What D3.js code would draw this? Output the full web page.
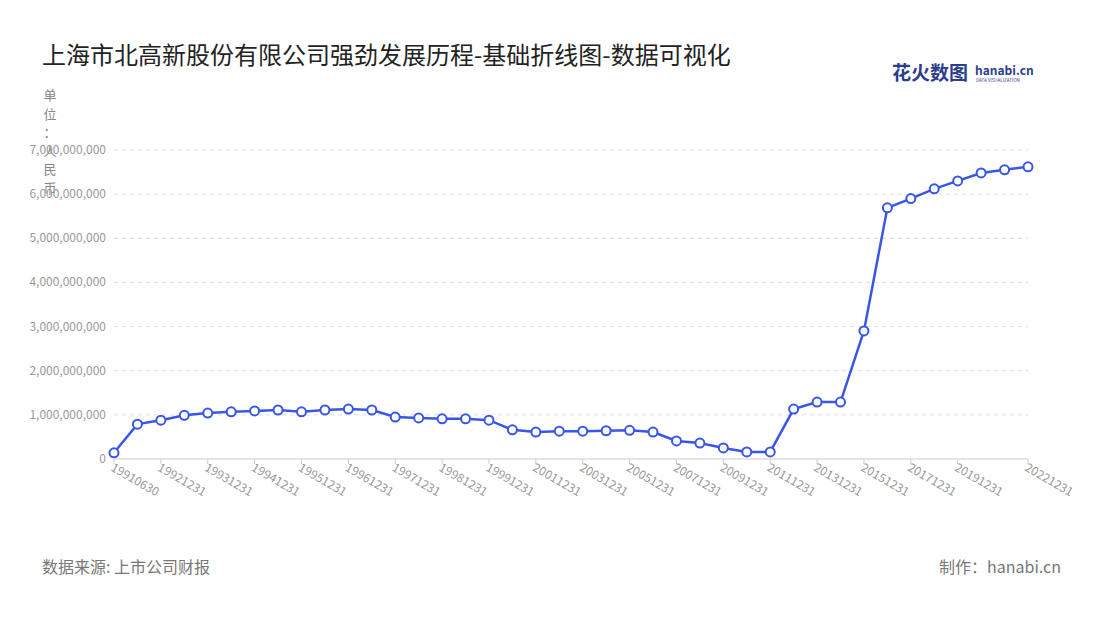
<!DOCTYPE html><html><head><meta charset="utf-8"><script src="https://cdn.jsdelivr.net/npm/d3@7"></script>
<style>body{margin:0;background:#fff;font-family:"Noto Sans CJK SC","Noto Sans",sans-serif}</style></head><body><svg id="c" width="1100" height="620"></svg>
<script>
const dates=["19910630","19911231","19921231","19930630","19931231","19940630","19941231","19950630","19951231","19960630","19961231","19970630","19971231","19980630","19981231","19990630","19991231","20001231","20011231","20021231","20031231","20041231","20051231","20061231","20071231","20081231","20091231","20101231","20111231","20121231","20131231","20141231","20151231","20161231","20171231","20181231","20191231","20201231","20211231","20221231"];
const values=[0.14,0.79,0.88,0.99,1.04,1.07,1.09,1.11,1.07,1.11,1.13,1.11,0.95,0.93,0.91,0.91,0.88,0.66,0.61,0.63,0.63,0.64,0.65,0.61,0.41,0.36,0.25,0.16,0.16,1.13,1.29,1.29,2.9,5.69,5.9,6.12,6.3,6.48,6.55,6.62].map(v=>v*1e9);
const yTicks=[0,1e9,2e9,3e9,4e9,5e9,6e9,7e9];
const labelIdx=[0,2,4,6,8,10,12,14,16,18,20,22,24,26,28,30,32,34,36,39];
const svg=d3.select("#c");
const x=d3.scalePoint().domain(dates).range([114,1028]);
const y=d3.scaleLinear().domain([0,7e9]).range([459,150]);
svg.append("text").attr("x",42).attr("y",64).attr("font-size",24).attr("fill","#222").text("上海市北高新股份有限公司强劲发展历程-基础折线图-数据可视化");
// logo
svg.append("text").attr("x",892).attr("y",80).attr("font-size",19).attr("font-weight","bold").attr("fill","#2d3e8c").text("花火数图");
svg.append("text").attr("x",975).attr("y",75).attr("font-size",12).attr("font-weight","bold").attr("fill","#2d3e8c").text("hanabi.cn");
svg.append("text").attr("x",976).attr("y",82).attr("font-size",4.5).attr("fill","#2d3e8c").text("DATA VISUALIZATION");
// unit
"单位：人民币".split("").forEach((ch,i)=>svg.append("text").attr("x",50).attr("y",100+i*18.5).attr("font-size",13).attr("fill","#888").attr("text-anchor","middle").text(ch));
const g=svg.append("g");
yTicks.forEach(t=>{ if(t>0) g.append("line").attr("x1",114).attr("x2",1028).attr("y1",y(t)).attr("y2",y(t)).attr("stroke","#ddd").attr("stroke-dasharray","4,4");
 g.append("text").attr("x",106).attr("y",y(t)+4).attr("text-anchor","end").attr("font-size",12).attr("fill","#999").text(d3.format(",")(t));});
g.append("line").attr("x1",114).attr("x2",1028).attr("y1",459).attr("y2",459).attr("stroke","#ccc");
labelIdx.forEach(i=>{const xx=x(dates[i]);
 g.append("line").attr("x1",xx).attr("x2",xx).attr("y1",459).attr("y2",464).attr("stroke","#ccc");
 g.append("text").attr("transform",`translate(${xx-4},${470}) rotate(30)`).attr("font-size",12).attr("fill","#999").text(dates[i]);});
const line=d3.line().x((d,i)=>x(dates[i])).y(d=>y(d));
g.append("path").attr("d",line(values)).attr("fill","none").attr("stroke","#3a56e4").attr("stroke-width",2.5);
g.selectAll("circle").data(values).join("circle").attr("cx",(d,i)=>x(dates[i])).attr("cy",d=>y(d)).attr("r",4.5).attr("fill","#fff").attr("stroke","#3a56e4").attr("stroke-width",2);
svg.append("text").attr("x",42).attr("y",573).attr("font-size",16).attr("fill","#777").text("数据来源: 上市公司财报");
svg.append("text").attr("x",1061).attr("y",573).attr("font-size",16).attr("text-anchor","end").attr("fill","#777").text("制作：hanabi.cn");
</script></body></html>
